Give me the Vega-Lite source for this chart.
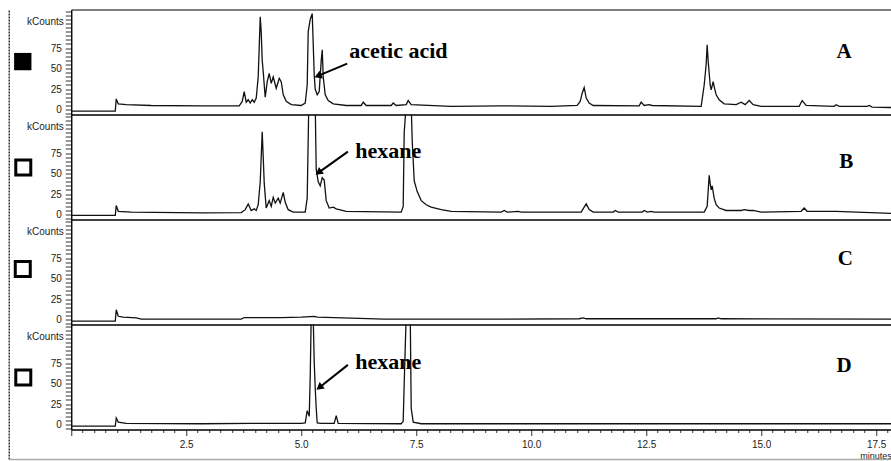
{
"$schema":"https://vega.github.io/schema/vega-lite/v6.json",
"padding":{"left":7.25,"top":5.5,"right":0,"bottom":0},
"background":"#ffffff",
"spacing":0,
"bounds":"flush",
"config":{"view":{"stroke":"#000","strokeWidth":1},"concat":{"spacing":0}},
"datasets":{
"A":[{"t":0,"v":-2},{"t":0.957,"v":-2},{"t":0.978,"v":13},{"t":1.022,"v":7},{"t":1.196,"v":6},{"t":1.739,"v":5},{"t":2.826,"v":4.5},{"t":3.652,"v":4.5},{"t":3.717,"v":10},{"t":3.761,"v":22},{"t":3.804,"v":9},{"t":3.848,"v":12},{"t":3.891,"v":8},{"t":3.935,"v":12},{"t":3.978,"v":9},{"t":4.022,"v":14},{"t":4.065,"v":40},{"t":4.109,"v":113},{"t":4.13,"v":95},{"t":4.152,"v":60},{"t":4.174,"v":46},{"t":4.217,"v":15},{"t":4.261,"v":34},{"t":4.304,"v":44},{"t":4.348,"v":32},{"t":4.391,"v":40},{"t":4.457,"v":26},{"t":4.522,"v":38},{"t":4.565,"v":34},{"t":4.609,"v":18},{"t":4.674,"v":10},{"t":4.783,"v":6},{"t":5.0,"v":5},{"t":5.087,"v":8},{"t":5.13,"v":30},{"t":5.152,"v":95},{"t":5.196,"v":110},{"t":5.239,"v":117},{"t":5.283,"v":42},{"t":5.304,"v":25},{"t":5.348,"v":18},{"t":5.391,"v":22},{"t":5.435,"v":60},{"t":5.457,"v":73},{"t":5.478,"v":40},{"t":5.522,"v":18},{"t":5.587,"v":11},{"t":5.696,"v":7},{"t":5.978,"v":5},{"t":6.304,"v":5},{"t":6.348,"v":9},{"t":6.413,"v":5},{"t":6.957,"v":5},{"t":7.0,"v":8},{"t":7.065,"v":5},{"t":7.283,"v":6},{"t":7.326,"v":11},{"t":7.391,"v":6},{"t":8.261,"v":4},{"t":9.348,"v":4.5},{"t":10.435,"v":4},{"t":11.0,"v":5},{"t":11.065,"v":10},{"t":11.109,"v":20},{"t":11.152,"v":27},{"t":11.196,"v":14},{"t":11.261,"v":8},{"t":11.348,"v":5},{"t":12.348,"v":4.5},{"t":12.391,"v":9},{"t":12.457,"v":5},{"t":12.565,"v":6},{"t":12.63,"v":5},{"t":13.696,"v":4},{"t":13.761,"v":30},{"t":13.804,"v":55},{"t":13.826,"v":79},{"t":13.848,"v":59},{"t":13.891,"v":30},{"t":13.913,"v":24},{"t":13.957,"v":34},{"t":13.978,"v":28},{"t":14.022,"v":18},{"t":14.087,"v":12},{"t":14.196,"v":7},{"t":14.457,"v":6},{"t":14.565,"v":9},{"t":14.652,"v":6},{"t":14.739,"v":11},{"t":14.826,"v":6},{"t":15.0,"v":4},{"t":15.826,"v":4},{"t":15.891,"v":11},{"t":15.978,"v":5},{"t":16.587,"v":4},{"t":16.63,"v":6},{"t":16.696,"v":4},{"t":17.304,"v":4},{"t":17.348,"v":5},{"t":17.413,"v":3},{"t":17.848,"v":2.5}],
"B":[{"t":0,"v":-1},{"t":0.957,"v":-1},{"t":0.978,"v":11},{"t":1.022,"v":4},{"t":1.304,"v":3},{"t":2.826,"v":2},{"t":3.696,"v":2.5},{"t":3.783,"v":6},{"t":3.848,"v":13},{"t":3.913,"v":5},{"t":3.978,"v":7},{"t":4.022,"v":5},{"t":4.065,"v":12},{"t":4.109,"v":40},{"t":4.152,"v":101},{"t":4.174,"v":70},{"t":4.196,"v":38},{"t":4.239,"v":8},{"t":4.304,"v":17},{"t":4.348,"v":10},{"t":4.391,"v":21},{"t":4.435,"v":14},{"t":4.5,"v":20},{"t":4.543,"v":14},{"t":4.609,"v":27},{"t":4.652,"v":15},{"t":4.717,"v":6},{"t":4.826,"v":3},{"t":5.087,"v":3},{"t":5.13,"v":20},{"t":5.163,"v":130},{"t":5.304,"v":135},{"t":5.326,"v":55},{"t":5.37,"v":40},{"t":5.413,"v":35},{"t":5.457,"v":45},{"t":5.5,"v":42},{"t":5.543,"v":17},{"t":5.609,"v":8},{"t":5.696,"v":9},{"t":5.761,"v":7},{"t":5.978,"v":4},{"t":7.174,"v":3},{"t":7.217,"v":10},{"t":7.239,"v":100},{"t":7.283,"v":135},{"t":7.391,"v":135},{"t":7.413,"v":90},{"t":7.457,"v":41},{"t":7.522,"v":28},{"t":7.609,"v":17},{"t":7.717,"v":12},{"t":7.826,"v":9},{"t":8.043,"v":6},{"t":8.261,"v":4},{"t":9.348,"v":3},{"t":9.413,"v":5},{"t":9.478,"v":3},{"t":9.717,"v":4},{"t":9.783,"v":3},{"t":11.087,"v":3},{"t":11.152,"v":9},{"t":11.196,"v":13},{"t":11.261,"v":6},{"t":11.348,"v":3},{"t":11.783,"v":3},{"t":11.826,"v":5},{"t":11.891,"v":3},{"t":12.413,"v":3},{"t":12.457,"v":5},{"t":12.522,"v":3},{"t":12.609,"v":4},{"t":12.674,"v":3},{"t":13.761,"v":3},{"t":13.826,"v":10},{"t":13.87,"v":48},{"t":13.891,"v":38},{"t":13.913,"v":30},{"t":13.935,"v":35},{"t":13.978,"v":20},{"t":14.022,"v":12},{"t":14.087,"v":8},{"t":14.239,"v":5},{"t":14.565,"v":5},{"t":14.63,"v":6},{"t":14.739,"v":5},{"t":14.826,"v":5},{"t":15.0,"v":3},{"t":15.87,"v":4},{"t":15.935,"v":8},{"t":16.0,"v":4},{"t":16.63,"v":4},{"t":17.826,"v":1.5}],
"C":[{"t":0,"v":-2},{"t":0.957,"v":-2},{"t":0.978,"v":12},{"t":1.022,"v":4},{"t":1.13,"v":3},{"t":1.413,"v":2},{"t":1.522,"v":0.5},{"t":3.696,"v":0.5},{"t":3.761,"v":2.5},{"t":4.565,"v":2.5},{"t":5.0,"v":3},{"t":5.283,"v":4},{"t":5.348,"v":3},{"t":5.717,"v":2.5},{"t":6.804,"v":0.5},{"t":9.348,"v":0.5},{"t":11.043,"v":1},{"t":11.13,"v":2},{"t":11.196,"v":1},{"t":14.022,"v":1},{"t":14.065,"v":2},{"t":14.13,"v":1},{"t":17.848,"v":0.5}],
"D":[{"t":0,"v":-2},{"t":0.957,"v":-2},{"t":0.978,"v":8},{"t":1.022,"v":3},{"t":1.196,"v":1.5},{"t":2.826,"v":1},{"t":3.913,"v":1.5},{"t":5.0,"v":1.5},{"t":5.087,"v":2},{"t":5.13,"v":17},{"t":5.174,"v":10},{"t":5.196,"v":60},{"t":5.217,"v":130},{"t":5.261,"v":130},{"t":5.283,"v":76},{"t":5.304,"v":45},{"t":5.326,"v":20},{"t":5.348,"v":2},{"t":5.435,"v":1.5},{"t":5.717,"v":1.5},{"t":5.761,"v":11},{"t":5.804,"v":1.5},{"t":7.174,"v":1},{"t":7.217,"v":4},{"t":7.239,"v":50},{"t":7.283,"v":135},{"t":7.37,"v":135},{"t":7.391,"v":20},{"t":7.435,"v":3},{"t":7.609,"v":1},{"t":9.348,"v":1},{"t":11.522,"v":1},{"t":13.696,"v":1},{"t":15.87,"v":1},{"t":17.848,"v":1}]
},
"vconcat":[
{"width":821,"height":105,
 "encoding":{"x":{"field":"t","type":"quantitative","scale":{"domain":[0,17.85],"nice":false,"zero":false},"axis":null},
   "y":{"field":"v","type":"quantitative","scale":{"domain":[-6,122],"nice":false,"zero":false},"axis":{"values":[-5,0,5,10,15,20,25,30,35,40,45,50,55,60,65,70,75,80,85,90,95,100,105,110,115,120],"labelExpr":"(datum.value % 25 === 0 && datum.value >= 0 && datum.value <= 75) ? datum.label : ''","tickSize":6,"labelPadding":4,"labelFont":"Liberation Sans","labelFontSize":10,"labelColor":"#222","labelOverlap":false,"labelBound":false,"labelFlush":false,"domainColor":"#000","tickColor":"#333","grid":false,"title":"kCounts","titleAngle":0,"titleAlign":"right","titleBaseline":"middle","titleX":-8,"titleY":12,"titleFont":"Liberation Sans","titleFontSize":10,"titleFontWeight":"normal","titleColor":"#222"}}},
 "layer":[
 {"data":{"name":"A"},"mark":{"type":"line","clip":true,"color":"#111","strokeWidth":1.3}},
 {"data":{"values":[{"t":16.8,"v":63.4,"s":"A"}]},"mark":{"type":"text","font":"Liberation Serif","fontWeight":"bold","fontSize":21,"baseline":"alphabetic","color":"#000"},"encoding":{"text":{"field":"s"}}},
 {"data":{"values":[{"t":6.043,"v":63.4,"s":"acetic acid"}]},"mark":{"type":"text","font":"Liberation Serif","fontWeight":"bold","fontSize":22,"align":"left","baseline":"alphabetic","color":"#000"},"encoding":{"text":{"field":"s"}}},
 {"data":{"values":[{"t":6.0,"v":56,"t2":5.363,"v2":41}]},"mark":{"type":"rule","strokeWidth":2,"color":"#000"},"encoding":{"x2":{"field":"t2"},"y2":{"field":"v2"}}},
 {"data":{"values":[{"t":5.363,"v":41}]},"mark":{"type":"point","shape":"triangle-up","filled":true,"size":70,"angle":247,"color":"#000","opacity":1}},
 {"data":{"values":[{"t":-1.054,"v":58.5}]},"mark":{"type":"point","shape":"square","filled":true,"size":300,"color":"#000","opacity":1,"clip":false}},
 {"data":{"values":[{"t":-1.348,"v":-6,"v2":122}]},"mark":{"type":"rule","clip":false,"color":"#333","strokeWidth":1.5,"strokeDash":[2,1]},"encoding":{"y2":{"field":"v2"}}}
]},
{"width":821,"height":105,
 "encoding":{"x":{"field":"t","type":"quantitative","scale":{"domain":[0,17.85],"nice":false,"zero":false},"axis":null},
   "y":{"field":"v","type":"quantitative","scale":{"domain":[-6,122],"nice":false,"zero":false},"axis":{"values":[-5,0,5,10,15,20,25,30,35,40,45,50,55,60,65,70,75,80,85,90,95,100,105,110,115,120],"labelExpr":"(datum.value % 25 === 0 && datum.value >= 0 && datum.value <= 75) ? datum.label : ''","tickSize":6,"labelPadding":4,"labelFont":"Liberation Sans","labelFontSize":10,"labelColor":"#222","labelOverlap":false,"labelBound":false,"labelFlush":false,"domainColor":"#000","tickColor":"#333","grid":false,"title":"kCounts","titleAngle":0,"titleAlign":"right","titleBaseline":"middle","titleX":-8,"titleY":12,"titleFont":"Liberation Sans","titleFontSize":10,"titleFontWeight":"normal","titleColor":"#222"}}},
 "layer":[
 {"data":{"name":"B"},"mark":{"type":"line","clip":true,"color":"#111","strokeWidth":1.3}},
 {"data":{"values":[{"t":16.85,"v":56.4,"s":"B"}]},"mark":{"type":"text","font":"Liberation Serif","fontWeight":"bold","fontSize":21,"baseline":"alphabetic","color":"#000"},"encoding":{"text":{"field":"s"}}},
 {"data":{"values":[{"t":6.174,"v":68.6,"s":"hexane"}]},"mark":{"type":"text","font":"Liberation Serif","fontWeight":"bold","fontSize":22,"align":"left","baseline":"alphabetic","color":"#000"},"encoding":{"text":{"field":"s"}}},
 {"data":{"values":[{"t":6.015,"v":76.8,"t2":5.376,"v2":51.2}]},"mark":{"type":"rule","strokeWidth":2,"color":"#000"},"encoding":{"x2":{"field":"t2"},"y2":{"field":"v2"}}},
 {"data":{"values":[{"t":5.376,"v":51.2}]},"mark":{"type":"point","shape":"triangle-up","filled":true,"size":70,"angle":234,"color":"#000","opacity":1}},
 {"data":{"values":[{"t":-1.043,"v":57.3}]},"mark":{"type":"point","shape":"square","filled":false,"size":225,"strokeWidth":3,"color":"#000","opacity":1,"clip":false}},
 {"data":{"values":[{"t":-1.348,"v":-6,"v2":122}]},"mark":{"type":"rule","clip":false,"color":"#333","strokeWidth":1.5,"strokeDash":[2,1]},"encoding":{"y2":{"field":"v2"}}}
]},
{"width":821,"height":105,
 "encoding":{"x":{"field":"t","type":"quantitative","scale":{"domain":[0,17.85],"nice":false,"zero":false},"axis":null},
   "y":{"field":"v","type":"quantitative","scale":{"domain":[-6,122],"nice":false,"zero":false},"axis":{"values":[-5,0,5,10,15,20,25,30,35,40,45,50,55,60,65,70,75,80,85,90,95,100,105,110,115,120],"labelExpr":"(datum.value % 25 === 0 && datum.value >= 0 && datum.value <= 75) ? datum.label : ''","tickSize":6,"labelPadding":4,"labelFont":"Liberation Sans","labelFontSize":10,"labelColor":"#222","labelOverlap":false,"labelBound":false,"labelFlush":false,"domainColor":"#000","tickColor":"#333","grid":false,"title":"kCounts","titleAngle":0,"titleAlign":"right","titleBaseline":"middle","titleX":-8,"titleY":12,"titleFont":"Liberation Sans","titleFontSize":10,"titleFontWeight":"normal","titleColor":"#222"}}},
 "layer":[
 {"data":{"name":"C"},"mark":{"type":"line","clip":true,"color":"#111","strokeWidth":1.3}},
 {"data":{"values":[{"t":16.83,"v":66.7,"s":"C"}]},"mark":{"type":"text","font":"Liberation Serif","fontWeight":"bold","fontSize":21,"baseline":"alphabetic","color":"#000"},"encoding":{"text":{"field":"s"}}},
 {"data":{"values":[{"t":-1.054,"v":61.6}]},"mark":{"type":"point","shape":"square","filled":false,"size":225,"strokeWidth":3,"color":"#000","opacity":1,"clip":false}},
 {"data":{"values":[{"t":-1.348,"v":-6,"v2":122}]},"mark":{"type":"rule","clip":false,"color":"#333","strokeWidth":1.5,"strokeDash":[2,1]},"encoding":{"y2":{"field":"v2"}}}
]},
{"width":821,"height":105,
 "encoding":{"x":{"field":"t","type":"quantitative","scale":{"domain":[0,17.85],"nice":false,"zero":false},"axis":{"values":[0,0.25,0.5,0.75,1,1.25,1.5,1.75,2,2.25,2.5,2.75,3,3.25,3.5,3.75,4,4.25,4.5,4.75,5,5.25,5.5,5.75,6,6.25,6.5,6.75,7,7.25,7.5,7.75,8,8.25,8.5,8.75,9,9.25,9.5,9.75,10,10.25,10.5,10.75,11,11.25,11.5,11.75,12,12.25,12.5,12.75,13,13.25,13.5,13.75,14,14.25,14.5,14.75,15,15.25,15.5,15.75,16,16.25,16.5,16.75,17,17.25,17.5,17.75],"labelExpr":"(datum.value > 0 && datum.value % 2.5 === 0) ? format(datum.value, '.1f') : ''","tickSize":{"condition":{"test":"datum.value % 2.5 === 0","value":6},"value":3},"labelPadding":4,"labelFont":"Liberation Sans","labelFontSize":10,"labelColor":"#222","labelOverlap":false,"labelBound":false,"labelFlush":false,"domainColor":"#000","tickColor":"#333","grid":false,"title":"minutes","titleAlign":"right","titleAnchor":"start","titleBaseline":"middle","titleX":820,"titleY":26,"titleFont":"Liberation Sans","titleFontSize":9,"titleFontWeight":"normal","titleColor":"#222"}},
   "y":{"field":"v","type":"quantitative","scale":{"domain":[-6,122],"nice":false,"zero":false},"axis":{"values":[-5,0,5,10,15,20,25,30,35,40,45,50,55,60,65,70,75,80,85,90,95,100,105,110,115,120],"labelExpr":"(datum.value % 25 === 0 && datum.value >= 0 && datum.value <= 75) ? datum.label : ''","tickSize":6,"labelPadding":4,"labelFont":"Liberation Sans","labelFontSize":10,"labelColor":"#222","labelOverlap":false,"labelBound":false,"labelFlush":false,"domainColor":"#000","tickColor":"#333","grid":false,"title":"kCounts","titleAngle":0,"titleAlign":"right","titleBaseline":"middle","titleX":-8,"titleY":12,"titleFont":"Liberation Sans","titleFontSize":10,"titleFontWeight":"normal","titleColor":"#222"}}},
 "layer":[
 {"data":{"name":"D"},"mark":{"type":"line","clip":true,"color":"#111","strokeWidth":1.3}},
 {"data":{"values":[{"t":16.8,"v":64.6,"s":"D"}]},"mark":{"type":"text","font":"Liberation Serif","fontWeight":"bold","fontSize":21,"baseline":"alphabetic","color":"#000"},"encoding":{"text":{"field":"s"}}},
 {"data":{"values":[{"t":6.174,"v":67.9,"s":"hexane"}]},"mark":{"type":"text","font":"Liberation Serif","fontWeight":"bold","fontSize":22,"align":"left","baseline":"alphabetic","color":"#000"},"encoding":{"text":{"field":"s"}}},
 {"data":{"values":[{"t":6.015,"v":72.8,"t2":5.394,"v2":45.3}]},"mark":{"type":"rule","strokeWidth":2,"color":"#000"},"encoding":{"x2":{"field":"t2"},"y2":{"field":"v2"}}},
 {"data":{"values":[{"t":5.394,"v":45.3}]},"mark":{"type":"point","shape":"triangle-up","filled":true,"size":70,"angle":232,"color":"#000","opacity":1}},
 {"data":{"values":[{"t":-1.043,"v":57.3}]},"mark":{"type":"point","shape":"square","filled":false,"size":225,"strokeWidth":3,"color":"#000","opacity":1,"clip":false}},
 {"data":{"values":[{"t":-1.348,"v":-42.6,"v2":122}]},"mark":{"type":"rule","clip":false,"color":"#333","strokeWidth":1.5,"strokeDash":[2,1]},"encoding":{"y2":{"field":"v2"}}},
 {"data":{"values":[{"t":-1.348,"v":-42.6,"t2":17.85}]},"mark":{"type":"rule","clip":false,"color":"#aaa","strokeWidth":1.5},"encoding":{"x2":{"field":"t2"}}}
]}
]
}
